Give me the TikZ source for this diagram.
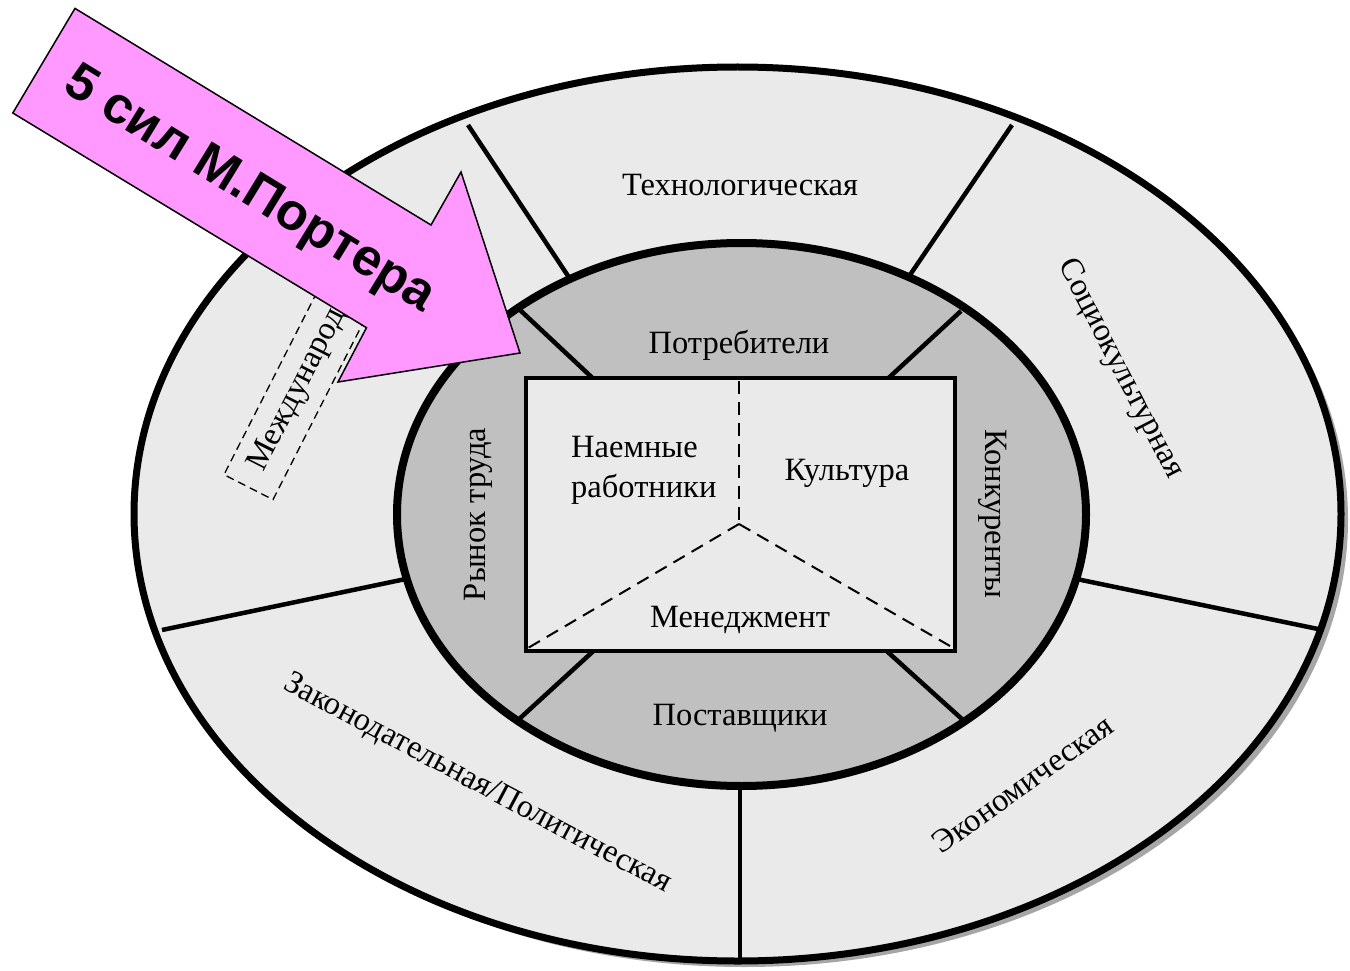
\documentclass[tikz,border=0pt]{standalone}
\usepackage{fontspec}
\setmainfont{Liberation Serif}
\newfontfamily\arrowfont{Liberation Sans}
\definecolor{ringlight}{HTML}{EAEAEA}
\definecolor{ringdark}{HTML}{C0C0C0}
\definecolor{shadowgray}{HTML}{A6A6A6}
\definecolor{arrowpink}{HTML}{FF99FF}
\begin{document}
\begin{tikzpicture}[x=1pt,y=-1pt,
  lbl/.style={font=\fontsize{32.5}{40}\selectfont, inner sep=0pt},
  spoke/.style={line width=4.5pt},
  dashline/.style={line width=2pt, dash pattern=on 13pt off 8pt}]
\useasboundingbox (0,0) rectangle (1350,971);
% shadow and outer ring
\fill[shadowgray] (744.5,520) ellipse [x radius=603.5pt, y radius=447pt];
\draw[line width=7pt, fill=ringlight] (737.5,514) ellipse [x radius=603.5pt, y radius=447pt];
% outer spokes
\coordinate (o1a) at (468,125);  \coordinate (o1b) at (580,294);
\coordinate (o2a) at (1012,125); \coordinate (o2b) at (897,294);
\coordinate (o3a) at (162,630);  \coordinate (o3b) at (420,576);
\coordinate (o4a) at (1318,629); \coordinate (o4b) at (1062,576);
\coordinate (o5a) at (740,958);  \coordinate (o5b) at (740,770);
\foreach \i in {1,...,5} {\draw[spoke] (o\i a) -- (o\i b);}
% dashed box (partly under the arrow)
\node[lbl, draw, dash pattern=on 8pt off 5pt, line width=1.3pt, fill=ringlight,
      rotate=63, minimum height=55pt, inner xsep=20pt] (intl) at (298,390) {Международ};
% inner ring
\draw[line width=8pt, fill=ringdark] (741.5,514.5) ellipse [x radius=344.5pt, y radius=271.5pt];
% inner spokes
\coordinate (i1a) at (600,385); \coordinate (i1b) at (520,310);
\coordinate (i2a) at (881,385); \coordinate (i2b) at (961,311);
\coordinate (i3a) at (600,645); \coordinate (i3b) at (517,721);
\coordinate (i4a) at (880,645); \coordinate (i4b) at (963,720);
\foreach \i in {1,...,4} {\draw[spoke] (i\i a) -- (i\i b);}
% core rectangle
\node[draw, fill=ringlight, line width=4pt, inner sep=0pt,
      minimum width=429.5pt, minimum height=273pt] (core) at (740.25,514.5) {};
\coordinate (apex) at (739,524);
\coordinate (ctop) at (739,381);
\coordinate (cbl) at (528,648);
\coordinate (cbr) at (950,646);
\draw[dashline] (ctop) -- (apex);
\draw[dashline] (apex) -- (cbl);
\draw[dashline] (apex) -- (cbr);
% labels
\node[lbl, anchor=base] (tech) at (740,196) {Технологическая};
\node[lbl, anchor=base] (cons) at (739,353) {Потребители};
\node[lbl, anchor=base] (supp) at (740,725) {Поставщики};
\node[lbl, anchor=base] (cult) at (847,480) {Культура};
\node[lbl, anchor=base] (mgmt) at (740,627) {Менеджмент};
\node[lbl, anchor=west, align=left] (staff) at (571,470.8) {Наемные\\работники};
\node[lbl, rotate=90] (labor) at (478,514.5) {Рынок труда};
\node[lbl, rotate=-90] (comp) at (992.5,514) {Конкуренты};
\node[lbl, rotate=-62.7] (socio) at (1120,369) {Социокультурная};
\node[lbl, rotate=-28] (legal) at (477.5,784) {Законодательная/Политическая};
\node[lbl, rotate=35.6] (econ) at (1022.5,784) {Экономическая};
% pink arrow
\coordinate (a1) at (75,8.4);
\coordinate (a2) at (431,225);
\coordinate (a3) at (461,172);
\coordinate (a4) at (520,353);
\coordinate (a5) at (338,382);
\coordinate (a6) at (366.5,327.7);
\coordinate (a7) at (12.8,113);
\draw[fill=arrowpink, line width=1.5pt, line join=miter] (a1) -- (a2) -- (a3) -- (a4) -- (a5) -- (a6) -- (a7) -- cycle;
\node[font=\arrowfont\bfseries\fontsize{52}{60}\selectfont, rotate=-31.5,
      text height=37pt, text depth=0pt, inner sep=0pt] (porter) at (252,186) {5 сил М.Портера};
\end{tikzpicture}
\end{document}
